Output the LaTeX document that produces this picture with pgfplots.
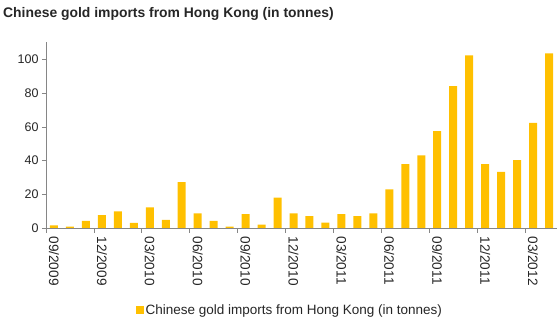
\documentclass[border=0pt]{standalone}
\usepackage{pgfplots}
\pgfplotsset{compat=1.18}
\usepackage{fontspec}
\setmainfont{Liberation Sans}
\definecolor{gold}{HTML}{FFC000}
\definecolor{axgray}{HTML}{868686}
\definecolor{txt}{HTML}{262626}
\begin{document}
\begin{tikzpicture}[x=1pt,y=1pt]
\path[use as bounding box] (0,0) rectangle (560,321);
\node[anchor=west, font=\bfseries\fontsize{13.9}{16}\selectfont, text=txt, inner sep=0pt] at (3,307) {Chinese gold imports from Hong Kong (in tonnes)};
\begin{axis}[
  scale only axis, width=511pt, height=186pt,
  at={(46pt,93pt)}, anchor=south west,
  ymin=0, ymax=110.5, xmin=-0.5, xmax=31.5,
  axis x line*=bottom, axis y line*=left,
  axis line style={axgray, line width=0.8pt},
  ytick={0,20,...,100},
  xtick={0,3,...,30},
  xticklabels={09/2009,12/2009,03/2010,06/2010,09/2010,12/2010,03/2011,06/2011,09/2011,12/2011,03/2012},
  minor xtick={-0.5,2.5,...,31.5},
  major x tick style={draw=none},
  minor tick length=5pt, major tick length=4pt,
  tick align=outside,
  tick style={axgray, line width=0.8pt},
  ticklabel style={font=\fontsize{12.5}{14}\selectfont, text=txt},
  /pgf/number format/assume math mode=true,
  xticklabel style={rotate=-90, anchor=west, font=\fontsize{13.6}{15}\selectfont, yshift=0pt, xshift=1pt},
  ybar, bar width=8pt,
  legend style={at={(0.477,-0.441)}, anchor=center, draw=none, font=\fontsize{13.5}{15}\selectfont, text=txt, inner sep=1pt},
  legend image code/.code={\fill[gold] (0pt,-4pt) rectangle (8pt,4pt);},
]
\addplot[fill=gold, draw=none] coordinates {
(0,1.6) (1,0.8) (2,4.2) (3,7.7) (4,9.9) (5,3.0) (6,12.3) (7,4.8) (8,27.2) (9,8.7)
(10,4.2) (11,0.8) (12,8.3) (13,2.0) (14,18.1) (15,8.7) (16,7.1) (17,3.2) (18,8.3) (19,7.1)
(20,8.7) (21,23.0) (22,37.9) (23,43.1) (24,57.5) (25,84.3) (26,102.6) (27,37.9) (28,33.3) (29,40.3)
(30,62.5) (31,103.8)
};
\addlegendentry{Chinese gold imports from Hong Kong (in tonnes)}
\end{axis}
\end{tikzpicture}
\end{document}
